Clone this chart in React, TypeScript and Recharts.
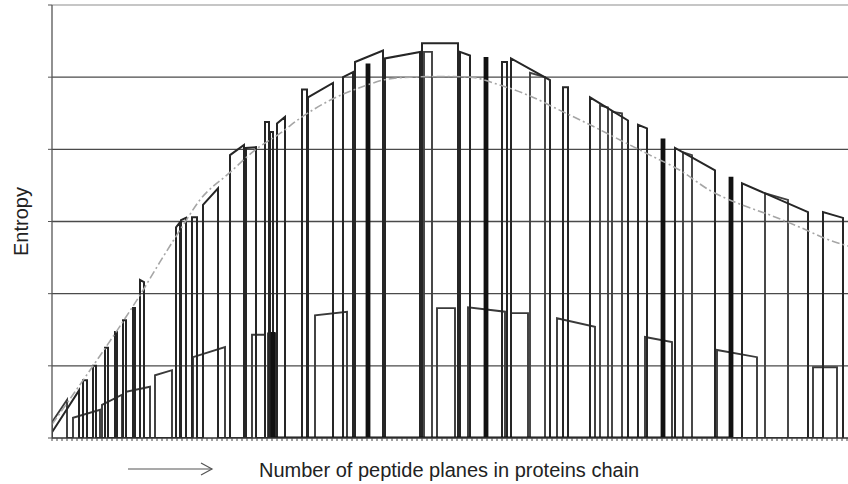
import { Label, Line, LineChart, ReferenceLine, XAxis, YAxis } from "recharts";

// pulses: [start plane, end plane, entropy at start, entropy at end]
const outerPulses: [number, number, number, number][] = [
  [0, 27, 0.08, 0.66],
  [31, 35, 0.8, 0.8],
  [41, 44, 1.0, 1.0],
  [53, 56, 1.25, 1.25],
  [63, 65, 1.47, 1.47],
  [71, 74, 1.63, 1.63],
  [81, 83, 1.8, 1.8],
  [88, 92, 2.19, 2.16],
  [124, 128, 2.92, 2.99],
  [129, 134, 3.02, 3.05],
  [140, 145, 3.06, 3.06],
  [151, 166, 3.23, 3.46],
  [178, 192, 3.92, 4.06],
  [194, 204, 4.02, 4.03],
  [213, 217, 4.38, 4.38],
  [218, 221, 4.24, 4.24],
  [225, 233, 4.36, 4.45],
  [250, 255, 4.83, 4.83],
  [256, 281, 4.72, 4.92],
  [291, 301, 5.0, 5.07],
  [303, 331, 5.21, 5.37],
  [333, 368, 5.26, 5.35],
  [370, 406, 5.47, 5.47],
  [408, 418, 5.35, 5.3],
  [450, 455, 5.21, 5.21],
  [459, 498, 5.26, 4.96],
  [511, 516, 4.86, 4.86],
  [538, 576, 4.72, 4.4],
  [586, 595, 4.34, 4.29],
  [623, 663, 4.02, 3.71],
  [690, 756, 3.53, 3.13],
  [771, 791, 3.13, 3.05],
];

const innerPulses: [number, number, number, number][] = [
  [372, 380, 5.35, 5.35],
  [478, 493, 5.06, 5.0],
  [548, 556, 4.61, 4.58],
  [560, 570, 4.52, 4.5],
  [631, 640, 3.96, 3.92],
  [713, 736, 3.39, 3.3],
];

const lowerPulses: [number, number, number, number][] = [
  [0, 15, 0.22, 0.53],
  [21, 48, 0.28, 0.39],
  [50, 70, 0.46, 0.6],
  [74, 98, 0.64, 0.71],
  [103, 120, 0.87, 0.94],
  [141, 173, 1.12, 1.26],
  [200, 213, 1.43, 1.43],
  [216, 223, 1.45, 1.45],
  [263, 295, 1.7, 1.75],
  [385, 403, 1.8, 1.8],
  [416, 453, 1.81, 1.75],
  [459, 476, 1.73, 1.73],
  [505, 543, 1.66, 1.54],
  [593, 620, 1.4, 1.33],
  [665, 705, 1.22, 1.12],
  [761, 785, 0.98, 0.98],
];

const spikePulses: [number, number, number, number][] = [
  [220, 222, 1.45, 1.45],
  [315, 317, 5.17, 5.17],
  [433, 435, 5.26, 5.26],
  [610, 612, 4.13, 4.13],
  [678, 680, 3.6, 3.6],
];

const envelopeX = [0, 23, 48, 68, 88, 108, 128, 148, 178, 203, 228, 248, 278, 315, 331, 358, 388, 418, 448, 478, 508, 538, 568, 598, 628, 658, 688, 718, 748, 778, 796];
const envelopeY = [0.19, 0.64, 1.14, 1.55, 1.98, 2.44, 2.88, 3.3, 3.68, 3.99, 4.22, 4.43, 4.68, 4.89, 4.96, 5.0, 5.01, 5.0, 4.89, 4.74, 4.54, 4.34, 4.13, 3.92, 3.71, 3.43, 3.24, 3.09, 2.92, 2.74, 2.66];

const gridValues = [1, 2, 3, 4, 5];
const yTicks = [0, 1, 2, 3, 4, 5, 6];
const xTickStep = 5;
const xMax = 796;

const xTitle = "Number of peptide planes in proteins chain";
const yTitle = "Entropy";

const FONT = "'Liberation Sans', Arial, sans-serif";

function toPoints(pulses: [number, number, number, number][]) {
  return pulses.flatMap(([a, b, ya, yb]) => [
    { x: a, y: 0 },
    { x: a, y: ya },
    { x: b, y: yb },
    { x: b, y: 0 },
  ]);
}

const outerData = toPoints(outerPulses);
const innerData = toPoints(innerPulses);
const lowerData = toPoints(lowerPulses);
const spikeData = toPoints(spikePulses);
const envelopeData = envelopeX.map((x, i) => ({ x, y: envelopeY[i] }));
const xTicks = Array.from({ length: Math.floor(xMax / xTickStep) + 1 }, (_, i) => i * xTickStep);

const emptyTick = () => <g />;

function XTitle(props: any) {
  const vb = props.viewBox || { x: 52, y: 438 };
  const ay = vb.y + 31;
  return (
    <g>
      <line x1={vb.x + 76} y1={ay} x2={vb.x + 160} y2={ay} stroke="#555" strokeWidth={1.2} />
      <polyline
        points={`${vb.x + 149},${ay - 6} ${vb.x + 160},${ay} ${vb.x + 149},${ay + 6}`}
        fill="none"
        stroke="#555"
        strokeWidth={1.2}
      />
      <text x={vb.x + 207} y={vb.y + 39} fontSize={20} fontFamily={FONT} fill="#222">
        {xTitle}
      </text>
    </g>
  );
}

function YTitle(props: any) {
  const vb = props.viewBox || { x: 12, y: 5, height: 433 };
  const cx = vb.x + 16;
  const cy = vb.y + vb.height / 2;
  return (
    <text
      x={cx}
      y={cy}
      fontSize={20}
      fontFamily={FONT}
      fill="#222"
      textAnchor="middle"
      transform={`rotate(-90, ${cx}, ${cy})`}
    >
      {yTitle}
    </text>
  );
}

export default function App() {
  return (
    <div style={{ position: "absolute", left: 0, top: 0, background: "#fff" }}>
      <LineChart width={848} height={484} margin={{ top: 5, right: 0, bottom: 16, left: 12 }}>
        <XAxis
          dataKey="x"
          type="number"
          domain={[0, xMax]}
          ticks={xTicks}
          tick={emptyTick}
          tickSize={3}
          height={30}
          interval={0}
          allowDataOverflow
          axisLine={{ stroke: "#333", strokeWidth: 1.6 }}
          tickLine={{ stroke: "#444", strokeWidth: 1 }}
        >
          <Label content={<XTitle />} position="insideBottom" />
        </XAxis>
        <YAxis
          type="number"
          domain={[0, 6]}
          ticks={yTicks}
          tick={emptyTick}
          tickSize={4}
          width={40}
          interval={0}
          allowDataOverflow
          axisLine={{ stroke: "#555", strokeWidth: 1.3 }}
          tickLine={{ stroke: "#555" }}
        >
          <Label content={<YTitle />} position="insideLeft" />
        </YAxis>
        {gridValues.map((v) => (
          <ReferenceLine key={v} y={v} stroke="#4a4a4a" strokeWidth={1.4} />
        ))}
        <ReferenceLine y={6} stroke="#c6c6c6" strokeWidth={2} />
        <Line data={lowerData} dataKey="y" type="linear" stroke="#3a3a3a" strokeWidth={1.9} dot={false} isAnimationActive={false} />
        <Line data={innerData} dataKey="y" type="linear" stroke="#404040" strokeWidth={1.9} dot={false} isAnimationActive={false} />
        <Line data={outerData} dataKey="y" type="linear" stroke="#262626" strokeWidth={2} dot={false} isAnimationActive={false} />
        <Line data={spikeData} dataKey="y" type="linear" stroke="#111" strokeWidth={2.8} dot={false} isAnimationActive={false} />
        <Line
          data={envelopeData}
          dataKey="y"
          type="monotone"
          stroke="#a6a6a6"
          strokeWidth={1.6}
          strokeDasharray="8 3 2 3"
          dot={false}
          isAnimationActive={false}
        />
      </LineChart>
    </div>
  );
}
